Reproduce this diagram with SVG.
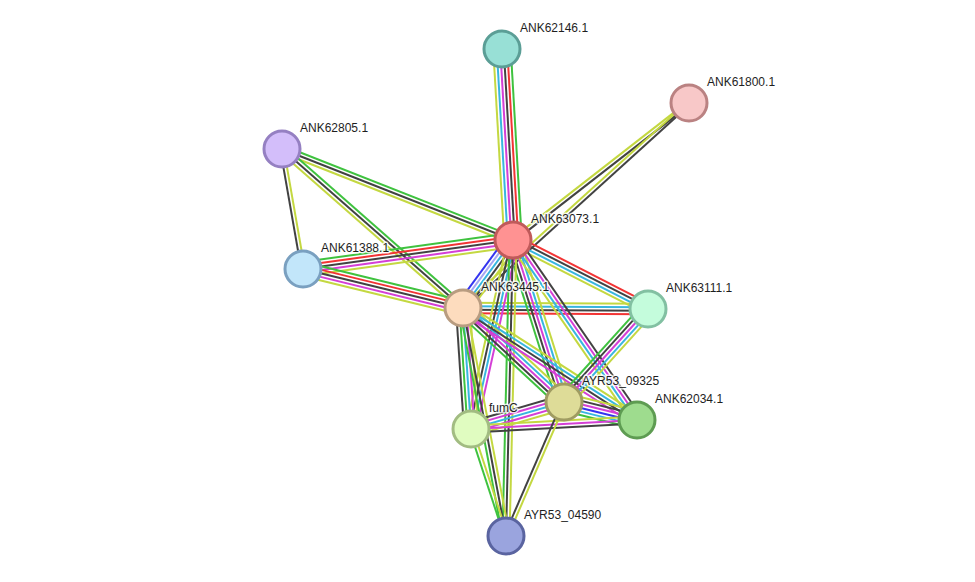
<svg xmlns="http://www.w3.org/2000/svg" width="975" height="582" viewBox="0 0 975 582">
<style>
.e line{stroke-width:2;fill:none}
.y{stroke:#c4d841}.c{stroke:#38b6df}.m{stroke:#d43fd6}.k{stroke:#424242}.r{stroke:#f23434}.g{stroke:#3fc23f}.b{stroke:#3434f0}.l{stroke:#a6a6f2}
.n circle{stroke-width:3}
.n text{font-family:"Liberation Sans",Arial,sans-serif;font-size:12px;fill:#1e1e1e;stroke:#ffffff;stroke-width:3;stroke-opacity:0.8;paint-order:stroke;stroke-linejoin:round}
</style>
<rect width="975" height="582" fill="#ffffff"/>
<g id="connectors" class="e">
<!-- 62146 - 63073 -->
<g transform="translate(502,49) rotate(86.70)"><line class="y" x1="0" y1="8.75" x2="191.3" y2="8.75"/><line class="c" x1="0" y1="5.25" x2="191.3" y2="5.25"/><line class="m" x1="0" y1="1.75" x2="191.3" y2="1.75"/><line class="k" x1="0" y1="-1.75" x2="191.3" y2="-1.75"/><line class="r" x1="0" y1="-5.25" x2="191.3" y2="-5.25"/><line class="g" x1="0" y1="-8.75" x2="191.3" y2="-8.75"/></g>
<!-- 61800 - 63073 -->
<g transform="translate(689,103) rotate(142.1)"><line class="y" x1="0" y1="1.75" x2="223" y2="1.75"/><line class="k" x1="0" y1="-1.75" x2="223" y2="-1.75"/></g>
<!-- 61800 - 63445 -->
<g transform="translate(689,103) rotate(137.8)"><line class="y" x1="0" y1="1.75" x2="305.1" y2="1.75"/><line class="k" x1="0" y1="-1.75" x2="305.1" y2="-1.75"/></g>
<!-- 62805 - 63073 -->
<g transform="translate(282,149) rotate(21.5)"><line class="g" x1="0" y1="-3.5" x2="248.3" y2="-3.5"/><line class="k" x1="0" y1="0" x2="248.3" y2="0"/><line class="y" x1="0" y1="3.5" x2="248.3" y2="3.5"/></g>
<!-- 62805 - 61388 -->
<g transform="translate(282,149) rotate(80.07)"><line class="k" x1="0" y1="1.75" x2="121.8" y2="1.75"/><line class="y" x1="0" y1="-1.75" x2="121.8" y2="-1.75"/></g>
<!-- 62805 - 63445 -->
<g transform="translate(282,149) rotate(41.3)"><line class="g" x1="0" y1="-3.5" x2="240.9" y2="-3.5"/><line class="k" x1="0" y1="0" x2="240.9" y2="0"/><line class="y" x1="0" y1="3.5" x2="240.9" y2="3.5"/></g>
<!-- 61388 - 63073 -->
<g transform="translate(303,269) rotate(-7.86)"><line class="g" x1="0" y1="-7" x2="212" y2="-7"/><line class="r" x1="0" y1="-3.5" x2="212" y2="-3.5"/><line class="k" x1="0" y1="0" x2="212" y2="0"/><line class="m" x1="0" y1="3.5" x2="212" y2="3.5"/><line class="y" x1="0" y1="7" x2="212" y2="7"/></g>
<!-- 61388 - 63445 -->
<g transform="translate(303,269) rotate(13.70)"><line class="g" x1="0" y1="-7" x2="164.7" y2="-7"/><line class="r" x1="0" y1="-3.5" x2="164.7" y2="-3.5"/><line class="k" x1="0" y1="0" x2="164.7" y2="0"/><line class="m" x1="0" y1="3.5" x2="164.7" y2="3.5"/><line class="y" x1="0" y1="7" x2="164.7" y2="7"/></g>
<!-- 63073 - 63445 -->
<g transform="translate(513,240) rotate(126.3)"><line class="b" x1="0" y1="7" x2="84.4" y2="7"/><line class="l" x1="0" y1="3.5" x2="84.4" y2="3.5"/><line class="c" x1="0" y1="0" x2="84.4" y2="0"/><line class="k" x1="0" y1="-3.5" x2="84.4" y2="-3.5"/><line class="y" x1="0" y1="-7" x2="84.4" y2="-7"/></g>
<!-- 63073 - 63111 -->
<g transform="translate(513,240) rotate(27.07)"><line class="r" x1="0" y1="-5.25" x2="151.6" y2="-5.25"/><line class="k" x1="0" y1="-1.75" x2="151.6" y2="-1.75"/><line class="c" x1="0" y1="1.75" x2="151.6" y2="1.75"/><line class="y" x1="0" y1="5.25" x2="151.6" y2="5.25"/></g>
<!-- 63445 - 63111 -->
<g transform="translate(463,308) rotate(0.31)"><line class="y" x1="0" y1="-5.25" x2="185" y2="-5.25"/><line class="c" x1="0" y1="-1.75" x2="185" y2="-1.75"/><line class="k" x1="0" y1="1.75" x2="185" y2="1.75"/><line class="r" x1="0" y1="5.25" x2="185" y2="5.25"/></g>
<!-- 63073 - 09325 -->
<g transform="translate(513,240) rotate(72.5)"><line class="g" x1="0" y1="7" x2="169.8" y2="7"/><line class="k" x1="0" y1="3.5" x2="169.8" y2="3.5"/><line class="m" x1="0" y1="0" x2="169.8" y2="0"/><line class="c" x1="0" y1="-3.5" x2="169.8" y2="-3.5"/><line class="y" x1="0" y1="-7" x2="169.8" y2="-7"/></g>
<!-- 63073 - 62034 -->
<g transform="translate(513,240) rotate(55.4)"><line class="k" x1="0" y1="-5.25" x2="218.6" y2="-5.25"/><line class="m" x1="0" y1="-1.75" x2="218.6" y2="-1.75"/><line class="c" x1="0" y1="1.75" x2="218.6" y2="1.75"/><line class="y" x1="0" y1="5.25" x2="218.6" y2="5.25"/></g>
<!-- 63073 - fumC -->
<g transform="translate(513,240) rotate(102.5)"><line class="y" x1="0" y1="5.25" x2="193.6" y2="5.25"/><line class="k" x1="0" y1="1.75" x2="193.6" y2="1.75"/><line class="c" x1="0" y1="-1.75" x2="193.6" y2="-1.75"/><line class="m" x1="0" y1="-5.25" x2="193.6" y2="-5.25"/></g>
<!-- 63073 - 04590 -->
<g transform="translate(513,240) rotate(91.35)"><line class="g" x1="0" y1="3.5" x2="296.1" y2="3.5"/><line class="k" x1="0" y1="0" x2="296.1" y2="0"/><line class="y" x1="0" y1="-3.5" x2="296.1" y2="-3.5"/></g>
<!-- 63445 - fumC -->
<g transform="translate(463,308) rotate(86.2)"><line class="k" x1="0" y1="7" x2="121.3" y2="7"/><line class="g" x1="0" y1="3.5" x2="121.3" y2="3.5"/><line class="c" x1="0" y1="0" x2="121.3" y2="0"/><line class="m" x1="0" y1="-3.5" x2="121.3" y2="-3.5"/><line class="y" x1="0" y1="-7" x2="121.3" y2="-7"/></g>
<!-- 63445 - 09325 -->
<g transform="translate(463,308) rotate(42.9)"><line class="y" x1="0" y1="-7" x2="138" y2="-7"/><line class="c" x1="0" y1="-3.5" x2="138" y2="-3.5"/><line class="m" x1="0" y1="0" x2="138" y2="0"/><line class="k" x1="0" y1="3.5" x2="138" y2="3.5"/><line class="g" x1="0" y1="7" x2="138" y2="7"/></g>
<!-- 63445 - 62034 -->
<g transform="translate(463,308) rotate(32.8)"><line class="y" x1="0" y1="-5.25" x2="206.9" y2="-5.25"/><line class="c" x1="0" y1="-1.75" x2="206.9" y2="-1.75"/><line class="k" x1="0" y1="1.75" x2="206.9" y2="1.75"/><line class="m" x1="0" y1="5.25" x2="206.9" y2="5.25"/></g>
<!-- 63445 - 04590 -->
<g transform="translate(463,308) rotate(79.3)"><line class="g" x1="0" y1="3.5" x2="232" y2="3.5"/><line class="k" x1="0" y1="0" x2="232" y2="0"/><line class="y" x1="0" y1="-3.5" x2="232" y2="-3.5"/></g>
<!-- 63111 - 09325 -->
<g transform="translate(648,309) rotate(132.1)"><line class="g" x1="0" y1="7" x2="125.3" y2="7"/><line class="k" x1="0" y1="3.5" x2="125.3" y2="3.5"/><line class="m" x1="0" y1="0" x2="125.3" y2="0"/><line class="c" x1="0" y1="-3.5" x2="125.3" y2="-3.5"/><line class="y" x1="0" y1="-7" x2="125.3" y2="-7"/></g>
<!-- 09325 - 62034 -->
<g transform="translate(564,402) rotate(13.85)"><line class="y" x1="0" y1="-8.75" x2="75.2" y2="-8.75"/><line class="k" x1="0" y1="-5.25" x2="75.2" y2="-5.25"/><line class="m" x1="0" y1="-1.75" x2="75.2" y2="-1.75"/><line class="b" x1="0" y1="1.75" x2="75.2" y2="1.75"/><line class="c" x1="0" y1="5.25" x2="75.2" y2="5.25"/><line class="g" x1="0" y1="8.75" x2="75.2" y2="8.75"/></g>
<!-- fumC - 09325 -->
<g transform="translate(471,429) rotate(-16.2)"><line class="k" x1="0" y1="-7" x2="96.8" y2="-7"/><line class="m" x1="0" y1="-3.5" x2="96.8" y2="-3.5"/><line class="c" x1="0" y1="0" x2="96.8" y2="0"/><line class="m" x1="0" y1="3.5" x2="96.8" y2="3.5"/><line class="y" x1="0" y1="7" x2="96.8" y2="7"/></g>
<!-- fumC - 62034 -->
<g transform="translate(471,429) rotate(-3.1)"><line class="y" x1="0" y1="-3.5" x2="166.2" y2="-3.5"/><line class="m" x1="0" y1="0" x2="166.2" y2="0"/><line class="k" x1="0" y1="3.5" x2="166.2" y2="3.5"/></g>
<!-- fumC - 04590 -->
<g transform="translate(471,429) rotate(71.9)"><line class="g" x1="0" y1="1.75" x2="112.6" y2="1.75"/><line class="y" x1="0" y1="-1.75" x2="112.6" y2="-1.75"/></g>
<!-- 09325 - 04590 -->
<g transform="translate(564,402) rotate(113.4)"><line class="k" x1="0" y1="1.75" x2="146" y2="1.75"/><line class="y" x1="0" y1="-1.75" x2="146" y2="-1.75"/></g>
</g>
<g id="node-ANK62146.1" class="n"><circle cx="502" cy="49" r="18" fill="#98e0d6" stroke="#5b9e96"/><text x="520" y="32">ANK62146.1</text></g>
<g id="node-ANK61800.1" class="n"><circle cx="689" cy="103" r="18" fill="#f8c8c8" stroke="#ba8282"/><text x="707" y="86">ANK61800.1</text></g>
<g id="node-ANK62805.1" class="n"><circle cx="282" cy="149" r="18" fill="#d3befa" stroke="#9580c2"/><text x="300" y="132">ANK62805.1</text></g>
<g id="node-ANK63073.1" class="n"><circle cx="513" cy="240" r="18" fill="#ff9292" stroke="#c05a5a"/><text x="531" y="223">ANK63073.1</text></g>
<g id="node-ANK61388.1" class="n"><circle cx="303" cy="269" r="18" fill="#c2e6fa" stroke="#7aa0c0"/><text x="321" y="252">ANK61388.1</text></g>
<g id="node-ANK63445.1" class="n"><circle cx="463" cy="308" r="18" fill="#fddcbe" stroke="#b89c80"/><text x="481" y="291">ANK63445.1</text></g>
<g id="node-ANK63111.1" class="n"><circle cx="648" cy="309" r="18" fill="#c4fcdc" stroke="#82c0a2"/><text x="666" y="292">ANK63111.1</text></g>
<g id="node-AYR53_09325" class="n"><circle cx="564" cy="402" r="18" fill="#dedc98" stroke="#a09c62"/><text x="582" y="385">AYR53_09325</text></g>
<g id="node-ANK62034.1" class="n"><circle cx="637" cy="420" r="18" fill="#9edc8e" stroke="#5e9c52"/><text x="655" y="403">ANK62034.1</text></g>
<g id="node-fumC" class="n"><circle cx="471" cy="429" r="18" fill="#e0fcc0" stroke="#a2bc82"/><text x="489" y="412">fumC</text></g>
<g id="node-AYR53_04590" class="n"><circle cx="506" cy="536" r="18" fill="#9aa4de" stroke="#5a64a0"/><text x="524" y="519">AYR53_04590</text></g>
</svg>
